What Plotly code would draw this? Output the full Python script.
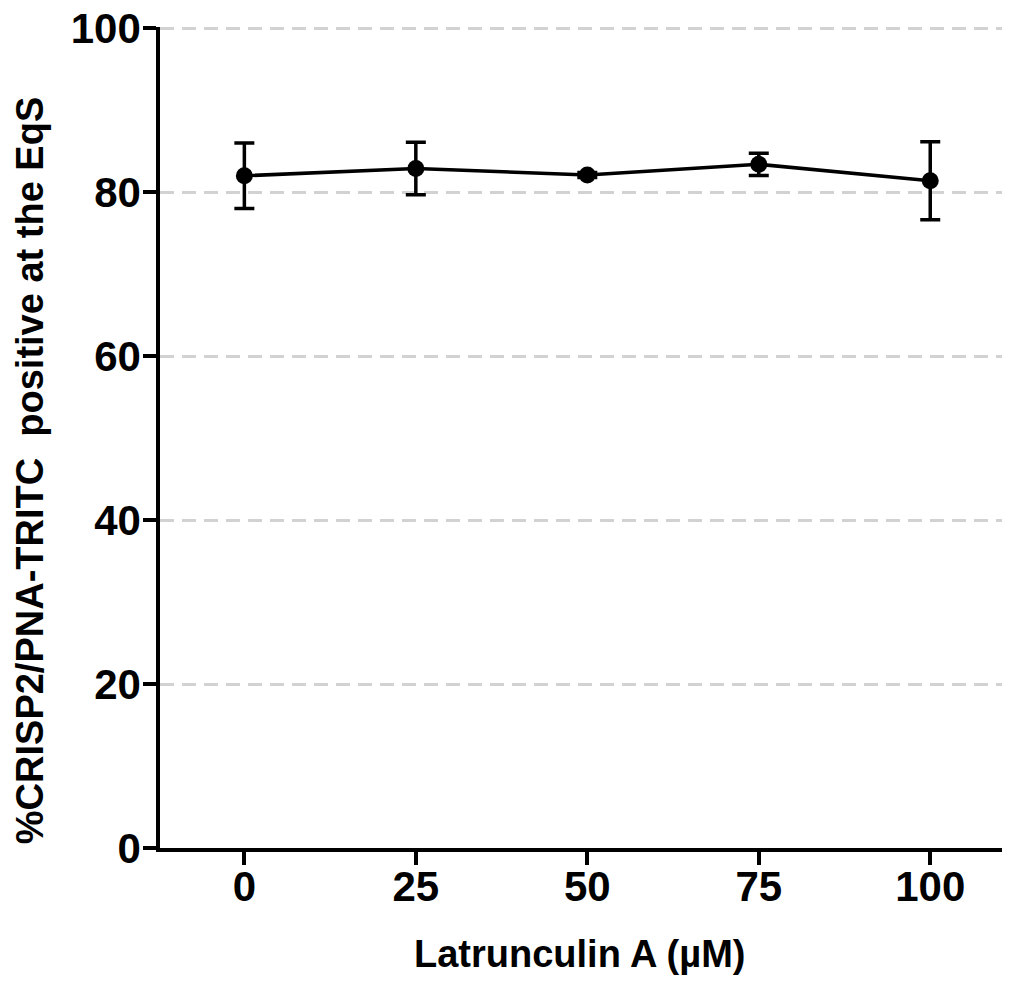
import plotly.graph_objects as go

concentration = [0, 25, 50, 75, 100]
mean_pct = [82.0, 82.9, 82.1, 83.4, 81.4]
sem_pct = [4.0, 3.2, 0.3, 1.35, 4.75]
x_ticks = [0, 25, 50, 75, 100]
y_ticks = [0, 20, 40, 60, 80, 100]
x_title = "Latrunculin A (µM)"
y_title = "%CRISP2/PNA-TRITC  positive at the EqS"

FONT = "Liberation Sans, Arial, sans-serif"

fig = go.Figure()
fig.add_trace(go.Scatter(
    x=concentration, y=mean_pct,
    mode="lines+markers",
    line=dict(color="black", width=3.5),
    marker=dict(color="black", size=17, symbol="circle"),
    error_y=dict(type="data", array=sem_pct, visible=True,
                 color="black", thickness=3.5, width=10),
    showlegend=False,
))

fig.update_layout(
    width=1010, height=986,
    margin=dict(l=152, r=13, t=19, b=146),
    plot_bgcolor="white", paper_bgcolor="white",
    font=dict(family=FONT, color="black", size=40),
    xaxis=dict(
        range=[-12.3, 110.9],
        tickvals=x_ticks, ticktext=[str(v) for v in x_ticks],
        showline=True, linecolor="black", linewidth=3.5,
        ticks="outside", ticklen=13, tickwidth=3.5, tickcolor="black",
        ticklabelstandoff=-14, ticklabeloverflow="allow",
        showgrid=False, zeroline=False, automargin=False,
        tickfont=dict(family=FONT, size=42, color="black", weight="bold"),
    ),
    yaxis=dict(
        range=[0, 100.15],
        tickvals=y_ticks, ticktext=[str(v) for v in y_ticks],
        showline=True, linecolor="black", linewidth=3.5,
        ticks="outside", ticklen=13, tickwidth=3.5, tickcolor="black",
        ticklabelstandoff=-6, ticklabeloverflow="allow",
        showgrid=True, gridcolor="#d2d2d2", gridwidth=2.5, griddash="14px,8px",
        zeroline=False, automargin=False,
        tickfont=dict(family=FONT, size=42, color="black", weight="bold"),
    ),
    annotations=[
        dict(text=f"<b>{x_title}</b>", xref="paper", yref="paper",
             x=0.497, y=-0.129, xanchor="center", yanchor="middle",
             showarrow=False, font=dict(family=FONT, size=38, color="black")),
        dict(text=f"<b>{y_title}</b>", xref="paper", yref="paper",
             x=-0.1538, y=0.459, xanchor="center", yanchor="middle",
             textangle=-90, showarrow=False,
             font=dict(family=FONT, size=38, color="black")),
    ],
)

fig.write_html("out.html")
